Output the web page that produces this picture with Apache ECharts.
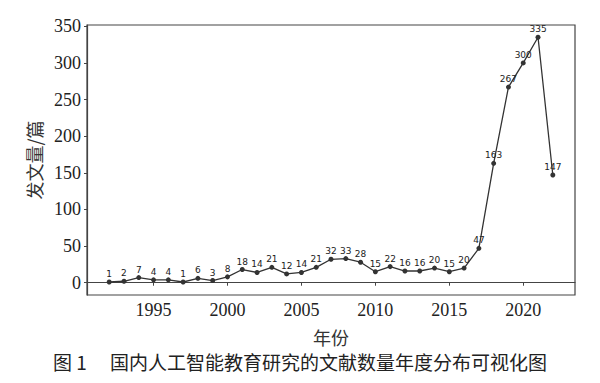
<!DOCTYPE html>
<html><head><meta charset="utf-8">
<script src="https://cdn.jsdelivr.net/npm/echarts@6/dist/echarts.min.js"></script>
<style>html,body{margin:0;padding:0;background:#fff}#c{width:600px;height:383px}</style>
</head><body><div id="c"></div>
<script>
var years = [1992,1993,1994,1995,1996,1997,1998,1999,2000,2001,2002,2003,2004,2005,2006,2007,2008,2009,2010,2011,2012,2013,2014,2015,2016,2017,2018,2019,2020,2021,2022];
var counts = [1,2,7,4,4,1,6,3,8,18,14,21,12,14,21,32,33,28,15,22,16,16,20,15,20,47,163,267,300,335,147];
var xTicks = [1995,2000,2005,2010,2015,2020];
var yTicks = [0,50,100,150,200,250,300,350];
var xName = '年份';
var yName = '发文量/篇';
var caption = '图 1\u3000 国内人工智能教育研究的文献数量年度分布可视化图';

var chart = echarts.init(document.getElementById('c'), null, {renderer: 'svg'});
var serif = 'Liberation Serif';
chart.setOption({
  animation: false,
  backgroundColor: '#fff',
  textStyle: {fontFamily: serif},
  grid: {left: 87, right: 25, top: 25, bottom: 88, containLabel: false, show: true, borderColor: '#444', borderWidth: 1.2},
  xAxis: {
    type: 'value', min: 1990.5, max: 2023.5,
    name: xName, nameLocation: 'middle', nameGap: 33,
    nameTextStyle: {fontFamily: 'Noto Sans CJK SC', fontSize: 18, color: '#333'},
    axisLine: {show: true, lineStyle: {color: '#444', width: 1.2}},
    axisTick: {show: true, customValues: xTicks, length: 3, lineStyle: {color: '#444'}},
    axisLabel: {customValues: xTicks, fontFamily: serif, fontSize: 18, color: '#222', margin: 6,
      formatter: function(v){ return String(v); }},
    splitLine: {show: false}
  },
  yAxis: {
    type: 'value', min: -16.75, max: 351.75,
    name: yName, nameLocation: 'middle', nameGap: 44, nameRotate: 90,
    nameTextStyle: {fontFamily: 'Noto Sans CJK SC', fontSize: 18, color: '#333'},
    axisLine: {show: true, lineStyle: {color: '#444', width: 1.2}},
    axisTick: {show: true, customValues: yTicks, length: 3, lineStyle: {color: '#444'}},
    axisLabel: {customValues: yTicks, fontFamily: serif, fontSize: 18, color: '#222', margin: 6,
      formatter: function(v){ return String(v); }},
    splitLine: {show: false}
  },
  series: [{
    type: 'line',
    data: years.map(function(y, i){ return [y, counts[i]]; }),
    symbol: 'circle', symbolSize: 5,
    itemStyle: {color: '#333'},
    lineStyle: {color: '#333', width: 1.3},
    label: {show: true, position: 'top', distance: 1, fontSize: 9, color: '#222', fontFamily: 'DejaVu Sans',
      formatter: function(p){ return p.value[1]; }}
  }],
  graphic: [{
    type: 'text', left: 'center', top: 352,
    style: {text: caption, font: '19px "Noto Sans CJK SC"', fill: '#222'}
  }]
});
</script></body></html>
